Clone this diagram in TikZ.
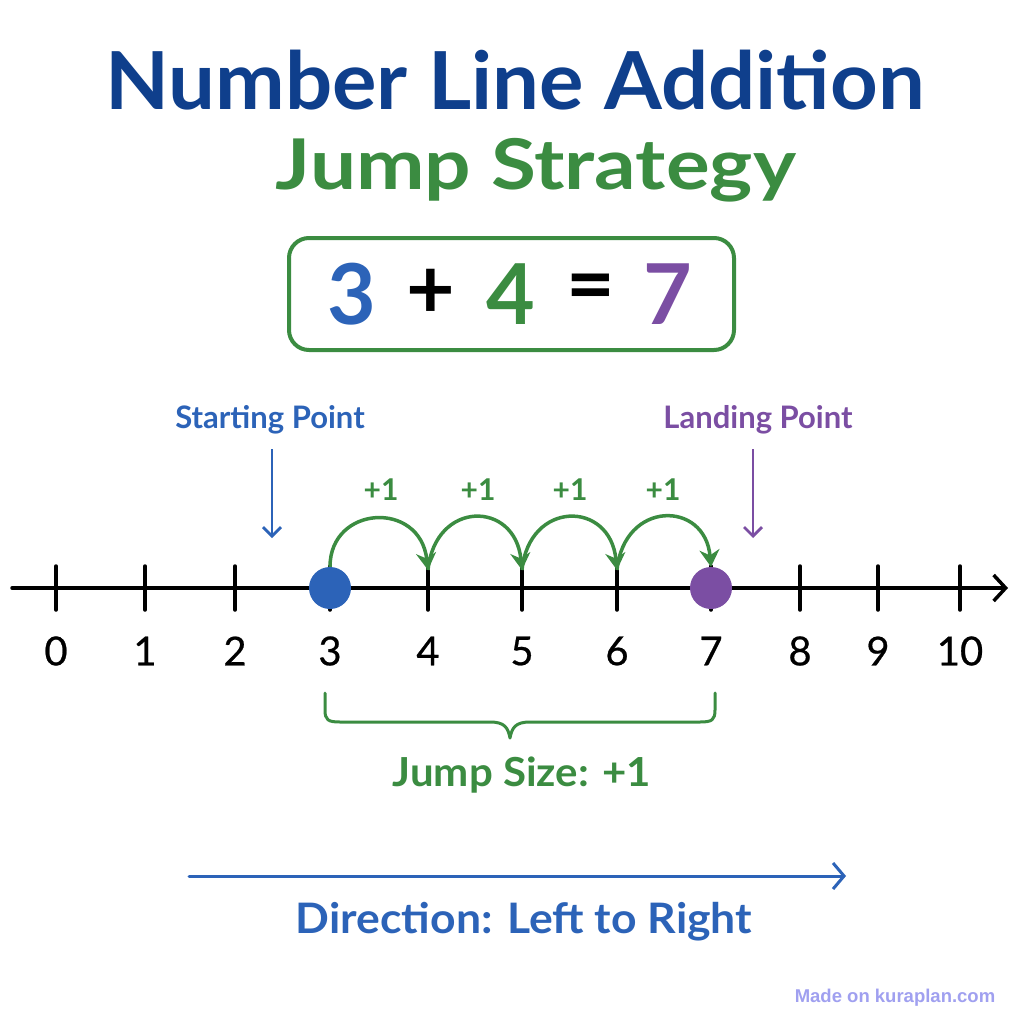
\documentclass[tikz,border=0pt]{standalone}
\usepackage{fontspec}
\setmainfont{Lato}
\newfontfamily\numfont[FakeBold=0.6]{Lato}
\newfontfamily\wmfont{Liberation Sans}
\usetikzlibrary{arrows.meta}
\definecolor{titleblue}{HTML}{0F3F8C}
\definecolor{mblue}{HTML}{2C63B8}
\definecolor{mgreen}{HTML}{3B8C41}
\definecolor{mpurple}{HTML}{7B4EA3}
\definecolor{wm}{HTML}{A0A0F0}
\begin{document}
\begin{tikzpicture}[x=1pt,y=-1pt,
  tick/.style={line width=3.5pt,line cap=round},
  numlab/.style={font=\numfont\fontsize{40}{44}\selectfont,anchor=center},
  jump/.style={mgreen,line width=3.5pt,-{Stealth[length=17pt,width=20pt]}},
  pluslab/.style={mgreen,font=\bfseries\fontsize{30}{34}\selectfont},
  ptr/.style={line width=2.8pt,-{Straight Barb[length=9pt,width=18pt,line width=2.8pt]}},
]
\useasboundingbox (0,0) rectangle (1024,1024);
\fill[white] (0,0) rectangle (1024,1024);
% titles
\node[titleblue,font=\bfseries\fontsize{80}{90}\selectfont] (title) at (515,80) {\scalebox{1.04}[1]{Number Line Addition}};
\node[mgreen,font=\bfseries\fontsize{70}{80}\selectfont] (sub) at (536,170) {\scalebox{1.17}[1]{Jump Strategy}};
% equation box
\draw[mgreen,line width=4pt,rounded corners=20pt] (289,238) rectangle (734,350);
\node[mblue,font=\bfseries\fontsize{84}{90}\selectfont] (e3) at (352,294) {3};
\node[black,font=\bfseries\fontsize{84}{90}\selectfont] (eplus) at (431,294) {+};
\node[mgreen,font=\bfseries\fontsize{84}{90}\selectfont] (e4) at (511,294) {4};
\node[black,font=\bfseries\fontsize{84}{90}\selectfont] (eeq) at (591,294) {=};
\node[mpurple,font=\bfseries\fontsize{84}{90}\selectfont] (e7) at (668,294) {7};
% number line
\coordinate (ls) at (12,588);
\coordinate (le) at (1008,588);
\draw[line width=3.5pt,line cap=round,-{Straight Barb[length=12pt,width=26pt,line width=3.5pt]}] (ls) -- (le);
\foreach \n/\x in {0/56,1/145,2/235,3/330,4/428,5/522,6/617,7/711,8/800,9/878,10/960}{
  \coordinate (t\n) at (\x,588);
  \draw[tick] (\x,566) -- (\x,610);
  \node[numlab] (n\n) at (\x,651) {\n};
}
% dots
\node[circle,fill=mblue,minimum size=42pt,inner sep=0pt] (start) at (t3) {};
\node[circle,fill=mpurple,minimum size=42pt,inner sep=0pt] (land) at (t7) {};
% jumps
\draw[jump] (start.north) .. controls (330,505) and (420,500) .. (428,570);
\draw[jump] (428,570) .. controls (435,500) and (515,500) .. (522,570);
\draw[jump] (522,570) .. controls (529,500) and (610,500) .. (617,570);
\draw[jump] (617,570) .. controls (624,500) and (705,500) .. (land.north);
\node[pluslab] (p1) at (381,490) {+1};
\node[pluslab] (p2) at (478,490) {+1};
\node[pluslab] (p3) at (570,490) {+1};
\node[pluslab] (p4) at (663,490) {+1};
% pointers
\node[mblue,font=\bfseries\fontsize{31}{34}\selectfont] (sp) at (270,420) {Starting Point};
\coordinate (spe) at (272,538);
\draw[ptr,mblue] (272,449) -- (spe);
\node[mpurple,font=\bfseries\fontsize{31}{34}\selectfont] (lp) at (758,420) {Landing Point};
\coordinate (lpe) at (753,538);
\draw[ptr,mpurple] (753,449) -- (lpe);
% brace
\draw[mgreen,line width=3pt,line cap=round,line join=round]
  (325,693) -- (325,710) .. controls (325,720) and (328,722) .. (340,722)
  -- (490,722) .. controls (505,722) and (508,728) .. (510,738)
  .. controls (512,728) and (515,722) .. (530,722)
  -- (700,722) .. controls (712,722) and (715,720) .. (715,710) -- (715,693);
\node[mgreen,font=\bfseries\fontsize{40}{44}\selectfont] (js) at (522,775) {\scalebox{1.05}[1]{Jump Size: +1}};
% direction
\coordinate (ds) at (189,876);
\coordinate (de) at (846,876);
\draw[mblue,line width=3pt,line cap=round,-{Straight Barb[length=11pt,width=26pt,line width=3pt]}] (ds) -- (de);
\node[mblue,font=\bfseries\fontsize{42}{48}\selectfont] (dir) at (524,922) {\scalebox{1.06}[1]{Direction: Left to Right}};
% watermark
\node[wm,font=\wmfont\bfseries\fontsize{18.5}{20}\selectfont] (wmk) at (895,998) {Made on kuraplan.com};
\end{tikzpicture}
\end{document}
